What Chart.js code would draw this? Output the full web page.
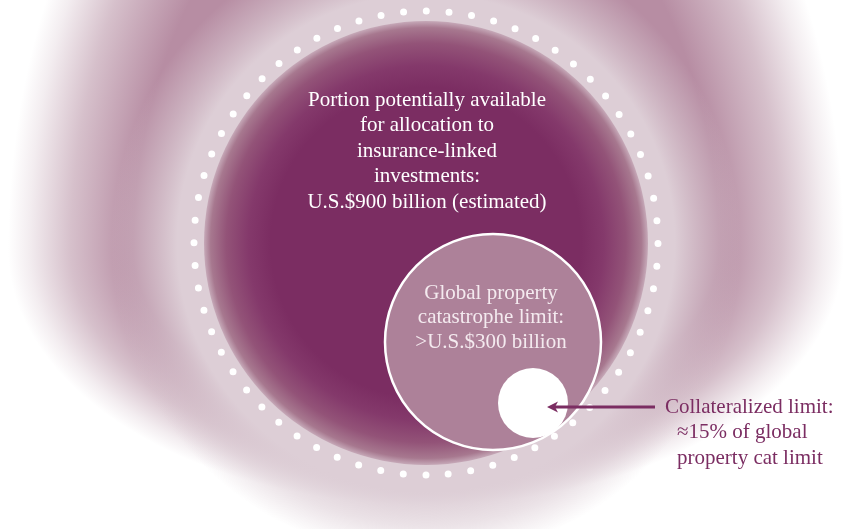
<!DOCTYPE html>
<html>
<head>
<meta charset="utf-8">
<title>Insurance-linked capacity</title>
<script src="https://cdn.jsdelivr.net/npm/chart.js@4/dist/chart.umd.min.js"></script>
<style>
  html, body { margin: 0; padding: 0; background: #fff; }
  #wrap { width: 853px; height: 529px; }
</style>
</head>
<body>
<div id="wrap"><canvas id="capacityChart" width="853" height="529"></canvas></div>
<script>
// Capital pools, U.S.$ billions
const pools = ['Available for insurance-linked investments', 'Global property catastrophe limit', 'Collateralized limit'];
const amounts = [900, 300, 45];
const poolLabels = [
  ['Portion potentially available', 'for allocation to', 'insurance-linked', 'investments:', 'U.S.$900 billion (estimated)'],
  ['Global property', 'catastrophe limit:', '>U.S.$300 billion'],
  ['Collateralized limit:', '\u224815% of global', 'property cat limit']
];

// Diagram layout (canvas units) - circles are nested, not area-scaled
const centerX = [426, 493, 533];
const centerY = [243, 342, 403];
const radius = [222, 108, 35];

const PLUM = '#7b2d62';
const MAUVE = 'rgb(183,141,163)';
const FONT = '21px "Liberation Serif", "Times New Roman", serif';

// Soft egg-shaped wash behind everything
function drawWash(ctx, cx, cy, w, h) {
  const rx = 418;
  [[600, true], [255, false]].forEach(([ry, top]) => {
    ctx.save();
    ctx.beginPath();
    if (top) ctx.rect(0, 0, w, cy); else ctx.rect(0, cy, w, h - cy);
    ctx.clip();
    ctx.translate(cx, cy);
    ctx.scale(1, ry / rx);
    const g = ctx.createRadialGradient(0, 0, 0, 0, 0, rx);
    g.addColorStop(0, MAUVE);
    g.addColorStop(0.7, MAUVE);
    g.addColorStop(0.85, 'rgb(214,192,203)');
    g.addColorStop(0.95, 'rgb(243,237,240)');
    g.addColorStop(1, 'rgb(255,255,255)');
    ctx.fillStyle = g;
    ctx.beginPath();
    ctx.arc(0, 0, rx, 0, Math.PI * 2);
    ctx.fill();
    ctx.restore();
  });
}

function poolCenter(chart, i) {
  return { x: chart.scales.x.getPixelForValue(centerX[i]), y: chart.scales.y.getPixelForValue(centerY[i]) };
}

const backdrop = {
  id: 'backdrop',
  beforeDatasetsDraw(chart) {
    const { ctx, width, height } = chart;
    const { x: cx, y: cy } = poolCenter(chart, 0);
    drawWash(ctx, cx, cy + 7, width, height);

    // pale halo around the big pool
    ctx.save();
    const hr = 315;
    const halo = ctx.createRadialGradient(cx, cy, 0, cx, cy, hr);
    halo.addColorStop(0, 'rgba(221,206,214,1)');
    halo.addColorStop(0.79, 'rgba(221,206,214,1)');
    halo.addColorStop(0.9, 'rgba(216,199,208,0.5)');
    halo.addColorStop(1, 'rgba(216,199,208,0)');
    ctx.fillStyle = halo;
    ctx.beginPath();
    ctx.arc(cx, cy, hr, 0, Math.PI * 2);
    ctx.fill();

    // dotted boundary
    const dr = 232;
    const gap = (2 * Math.PI * dr) / 64;
    ctx.strokeStyle = '#ffffff';
    ctx.lineWidth = 7;
    ctx.lineCap = 'round';
    ctx.setLineDash([0, gap]);
    ctx.beginPath();
    ctx.arc(cx, cy, dr, Math.PI / 2, Math.PI / 2 + Math.PI * 2);
    ctx.stroke();
    ctx.restore();
  }
};

// dark core fading out towards its rim
function coreFill(context) {
  const chart = context.chart;
  if (!chart.scales || !chart.scales.x) return PLUM;
  const { x, y } = poolCenter(chart, 0);
  if (!isFinite(x) || !isFinite(y)) return PLUM;
  const r = radius[0];
  const g = chart.ctx.createRadialGradient(x, y, 0, x, y, r);
  g.addColorStop(0, PLUM);
  g.addColorStop(0.7, PLUM);
  g.addColorStop(0.8, '#84396b');
  g.addColorStop(0.9, '#935378');
  g.addColorStop(0.97, '#a7788f');
  g.addColorStop(1, '#c6a9b8');
  return g;
}

const labelsPlugin = {
  id: 'poolText',
  afterDatasetsDraw(chart) {
    const { ctx } = chart;
    const pts = chart.getDatasetMeta(0).data;
    ctx.save();
    ctx.font = FONT;
    ctx.textBaseline = 'middle';
    ctx.textAlign = 'center';

    ctx.fillStyle = '#ffffff';
    poolLabels[0].forEach((line, i) => {
      ctx.fillText(line, pts[0].x + 1, pts[0].y - 143 + i * 25.5);
    });

    ctx.fillStyle = '#f4eaef';
    poolLabels[1].forEach((line, i) => {
      ctx.fillText(line, pts[1].x - 2, pts[1].y - 49 + i * 24.5);
    });

    // pointer to the collateralized circle
    const ax = pts[2].x + 14, ay = pts[2].y + 4;
    ctx.strokeStyle = PLUM;
    ctx.fillStyle = PLUM;
    ctx.lineWidth = 3;
    ctx.beginPath();
    ctx.moveTo(ax + 108, ay);
    ctx.lineTo(ax + 8, ay);
    ctx.stroke();
    ctx.beginPath();
    ctx.moveTo(ax, ay);
    ctx.lineTo(ax + 11, ay - 5.5);
    ctx.lineTo(ax + 8, ay);
    ctx.lineTo(ax + 11, ay + 5.5);
    ctx.closePath();
    ctx.fill();

    ctx.textAlign = 'left';
    const lx = ax + 118;
    poolLabels[2].forEach((line, i) => {
      ctx.fillText(line, lx + (i ? 12 : 0), ay + i * 25.5);
    });
    ctx.restore();
  }
};

new Chart(document.getElementById('capacityChart'), {
  type: 'bubble',
  data: {
    labels: pools,
    datasets: [{
      label: 'U.S.$ billions',
      data: amounts.map((v, i) => ({ x: centerX[i], y: centerY[i], r: radius[i], v })),
      backgroundColor: (c) => [coreFill(c), '#ad8199', '#ffffff'][c.dataIndex],
      borderColor: ['rgba(0,0,0,0)', '#ffffff', '#ffffff'],
      borderWidth: [0, 2.5, 0],
      hoverRadius: 0,
      clip: false
    }]
  },
  options: {
    responsive: false,
    devicePixelRatio: 1,
    animation: false,
    events: [],
    layout: { padding: 0, autoPadding: false },
    scales: {
      x: { type: 'linear', min: 0, max: 853, display: false },
      y: { type: 'linear', min: 0, max: 529, reverse: true, display: false }
    },
    plugins: { legend: { display: false }, tooltip: { enabled: false } }
  },
  plugins: [backdrop, labelsPlugin]
});
</script>
</body>
</html>
